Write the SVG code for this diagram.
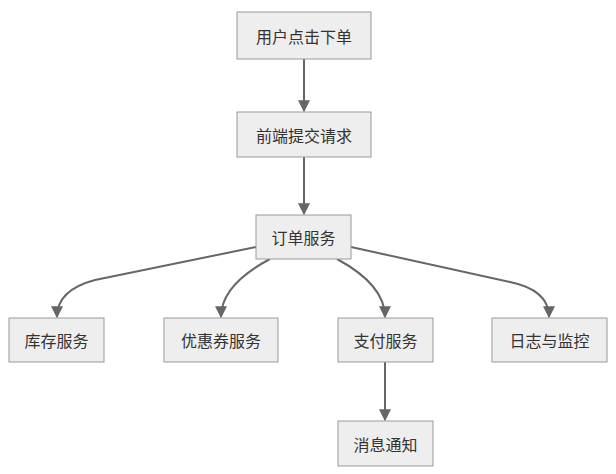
<svg xmlns="http://www.w3.org/2000/svg" width="616" height="474" viewBox="0 0 616 474">
<style>
.n rect{fill:#eeeeee;stroke:#999999;stroke-width:1}
.n text{font-family:"Noto Sans CJK SC","Liberation Sans",sans-serif;font-size:16px;fill:#333;text-anchor:middle;dominant-baseline:central}
.e path{fill:none;stroke:#666666;stroke-width:2;marker-end:url(#a)}
</style>
<defs><marker id="a" viewBox="0 0 10 10" refX="9" refY="5" markerWidth="6" markerHeight="6" orient="auto"><path d="M0,0L10,5L0,10z" fill="#666666"/></marker></defs>
<rect width="616" height="474" fill="#ffffff"/>
<g class="e">
<path d="M304,59V111"/>
<path d="M304,157V214"/>
<path d="M256,247L95,280Q57,290 57,317"/>
<path d="M270,259Q221,285 221,317"/>
<path d="M337,259Q385,285 385,317"/>
<path d="M351,247L510,282Q549,290 549,317"/>
<path d="M385,362V420"/>
</g>
<g id="n1" class="n"><rect x="237" y="12" width="134" height="47"/><text x="304" y="35.5">用户点击下单</text></g>
<g id="n2" class="n"><rect x="237" y="112" width="134" height="45"/><text x="304" y="134.5">前端提交请求</text></g>
<g id="n3" class="n"><rect x="256" y="215" width="95" height="44"/><text x="303.5" y="237">订单服务</text></g>
<g id="n4" class="n"><rect x="9" y="318" width="95" height="44"/><text x="56.5" y="340">库存服务</text></g>
<g id="n5" class="n"><rect x="164" y="318" width="114" height="44"/><text x="221" y="340">优惠券服务</text></g>
<g id="n6" class="n"><rect x="338" y="318" width="95" height="44"/><text x="385.5" y="340">支付服务</text></g>
<g id="n7" class="n"><rect x="492" y="318" width="115" height="44"/><text x="549.5" y="340">日志与监控</text></g>
<g id="n8" class="n"><rect x="338" y="421" width="95" height="45"/><text x="385.5" y="443.5">消息通知</text></g>
</svg>
